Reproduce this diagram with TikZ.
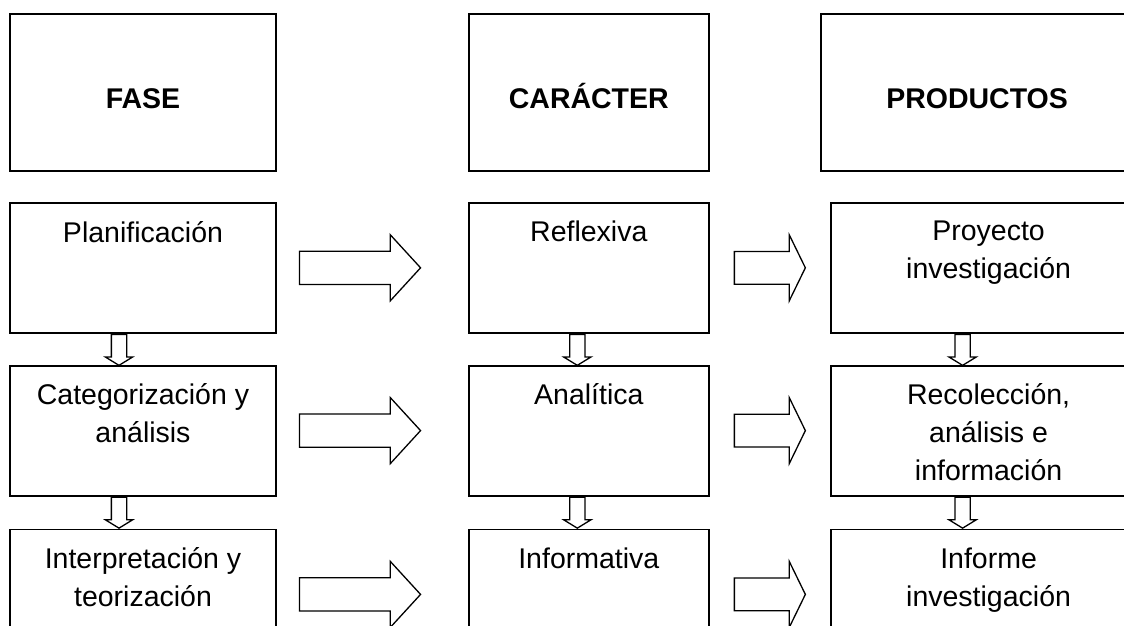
\documentclass[tikz,border=0pt]{standalone}
\usepackage{fontspec}
\setmainfont{Liberation Sans}
\usetikzlibrary{positioning,shapes.arrows}

\begin{document}
\begin{tikzpicture}[x=1pt,y=-1pt,
    every node/.style={font=\fontsize{28.5}{38}\selectfont},
    hdrbox/.style={draw,line width=1.8pt,minimum height=157pt,inner sep=0pt},
    hdrtxt/.style={yshift=-5.25pt,inner sep=0pt,text height=20.5pt,text depth=0pt,
      font=\fontsize{28.5}{38}\selectfont\bfseries},
    rowbox/.style={draw,line width=1.8pt,minimum height=130pt,inner sep=0pt},
    rowtxt/.style={anchor=north,yshift=-19pt,inner sep=0pt,align=center},
    bigarr/.style={draw,line width=1.3pt,single arrow,inner xsep=0pt,inner ysep=16pt,
      single arrow head extend=16.5pt,minimum width=0pt,minimum height=121pt,single arrow tip angle=95},
    smallarr/.style={bigarr,inner ysep=15.75pt,minimum height=71pt,single arrow tip angle=128},
    downarr/.style={draw,line width=1.3pt,single arrow,rotate=-90,inner xsep=0pt,inner ysep=7pt,
      single arrow head extend=6pt,minimum width=0pt,minimum height=31pt,single arrow tip angle=117}]
  \useasboundingbox (0,0) rectangle (1124,626);
  \clip (0,0) rectangle (1124,626);

  % column headers
  \node[hdrbox,minimum width=266pt,label={[hdrtxt]center:FASE}] (fase) at (143,92.5) {};
  \node[hdrbox,minimum width=240pt,label={[hdrtxt]center:CARÁCTER},right=191pt of fase] (car) {};
  \node[hdrbox,minimum width=313pt,label={[hdrtxt]center:PRODUCTOS},right=110pt of car] (prod) {};

  % fase column
  \node[rowbox,minimum width=266pt,below=30pt of fase,label={[rowtxt]north:{Planificación}}] (plan) {};
  \node[rowbox,minimum width=266pt,below=31pt of plan,label={[rowtxt]north:{Categorización y\\análisis}}] (cat) {};
  \node[rowbox,minimum width=266pt,below=32pt of cat,label={[rowtxt]north:{Interpretación y\\teorización}}] (interp) {};

  % caracter column
  \node[rowbox,minimum width=240pt,below=30pt of car,label={[rowtxt]north:{Reflexiva}}] (refl) {};
  \node[rowbox,minimum width=240pt,below=31pt of refl,label={[rowtxt]north:{Analítica}}] (anal) {};
  \node[rowbox,minimum width=240pt,below=32pt of anal,label={[rowtxt]north:{Informativa}}] (info) {};

  % productos column
  \node[rowbox,minimum width=316pt,below=30pt of prod,xshift=11.5pt,label={[rowtxt]north:{Proyecto\\investigación}}] (proy) {};
  \node[rowbox,minimum width=316pt,below=31pt of proy,label={[rowtxt]north:{Recolección,\\análisis e\\información}}] (rec) {};
  \node[rowbox,minimum width=316pt,below=32pt of rec,label={[rowtxt]north:{Informe\\investigación}}] (inf) {};

  % arrows between columns
  \node[bigarr,anchor=tail] (a1) at ([xshift=22pt]plan.east) {};
  \node[bigarr,anchor=tail] (a2) at ([xshift=22pt]cat.east) {};
  \node[bigarr,anchor=tail] (a3) at ([xshift=22pt]interp.east) {};
  \node[smallarr,anchor=tail] (b1) at ([xshift=24pt]refl.east) {};
  \node[smallarr,anchor=tail] (b2) at ([xshift=24pt]anal.east) {};
  \node[smallarr,anchor=tail] (b3) at ([xshift=24pt]info.east) {};

  % arrows down
  \node[downarr,anchor=tail] (d1) at ([xshift=-24pt]plan.south) {};
  \node[downarr,anchor=tail] (d2) at ([xshift=-24pt]cat.south) {};
  \node[downarr,anchor=tail] (d3) at ([xshift=-11.5pt]refl.south) {};
  \node[downarr,anchor=tail] (d4) at ([xshift=-11.5pt]anal.south) {};
  \node[downarr,anchor=tail] (d5) at ([xshift=-26pt]proy.south) {};
  \node[downarr,anchor=tail] (d6) at ([xshift=-26pt]rec.south) {};
\end{tikzpicture}
\end{document}
